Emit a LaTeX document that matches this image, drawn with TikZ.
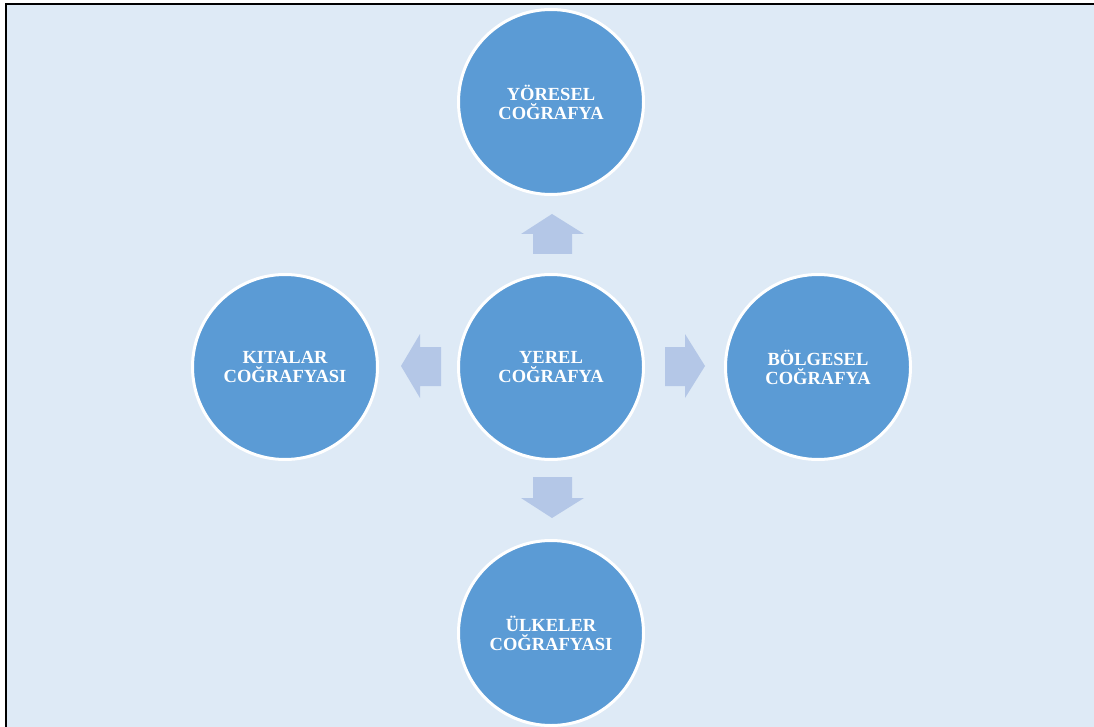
\documentclass[tikz,border=0pt]{standalone}
\usepackage{fontspec}
\setmainfont{Liberation Serif}
\begin{document}
\begin{tikzpicture}[x=1pt,y=-1pt,
  bubble/.style={circle,minimum size=185pt,inner sep=0pt,fill=circblue,draw=white,line width=3pt,
    text=white,font=\fontsize{18.5}{19}\selectfont\bfseries,align=center},
  blockarrow/.style={fill=arrowblue,draw=none}]
\definecolor{bgblue}{RGB}{222,234,246}
\definecolor{circblue}{RGB}{91,155,213}
\definecolor{arrowblue}{RGB}{180,199,231}
\useasboundingbox (0,0) rectangle (1094,727);
\fill[bgblue] (5.5,4.5) rectangle (1094,727);
\draw[line width=2pt,black] (5.5,727) -- (5.5,4.5) -- (1094,4.5);
% circles
\node[bubble] (top) at (551,102) {YÖRESEL\\COĞRAFYA};
\node[bubble] (mid) at (551,367) {YEREL\\COĞRAFYA};
\node[bubble] (left) at (285,367) {KITALAR\\COĞRAFYASI};
\node[bubble] (right) at (818,367) {BÖLGESEL\\COĞRAFYA};
\node[bubble] (bot) at (551,633) {ÜLKELER\\COĞRAFYASI};
% block arrows
\fill[blockarrow] (552,214) -- (584,234) -- (572,234) -- (572,254) -- (533,254) -- (533,234) -- (521,234) -- cycle;
\fill[blockarrow] (552,518) -- (584,498) -- (572,498) -- (572,477) -- (533,477) -- (533,498) -- (521,498) -- cycle;
\fill[blockarrow] (401,366) -- (420,334) -- (420,347) -- (441,347) -- (441,386) -- (420,386) -- (420,398) -- cycle;
\fill[blockarrow] (705,366) -- (685,334) -- (685,347) -- (665,347) -- (665,386) -- (685,386) -- (685,398) -- cycle;
\end{tikzpicture}
\end{document}
